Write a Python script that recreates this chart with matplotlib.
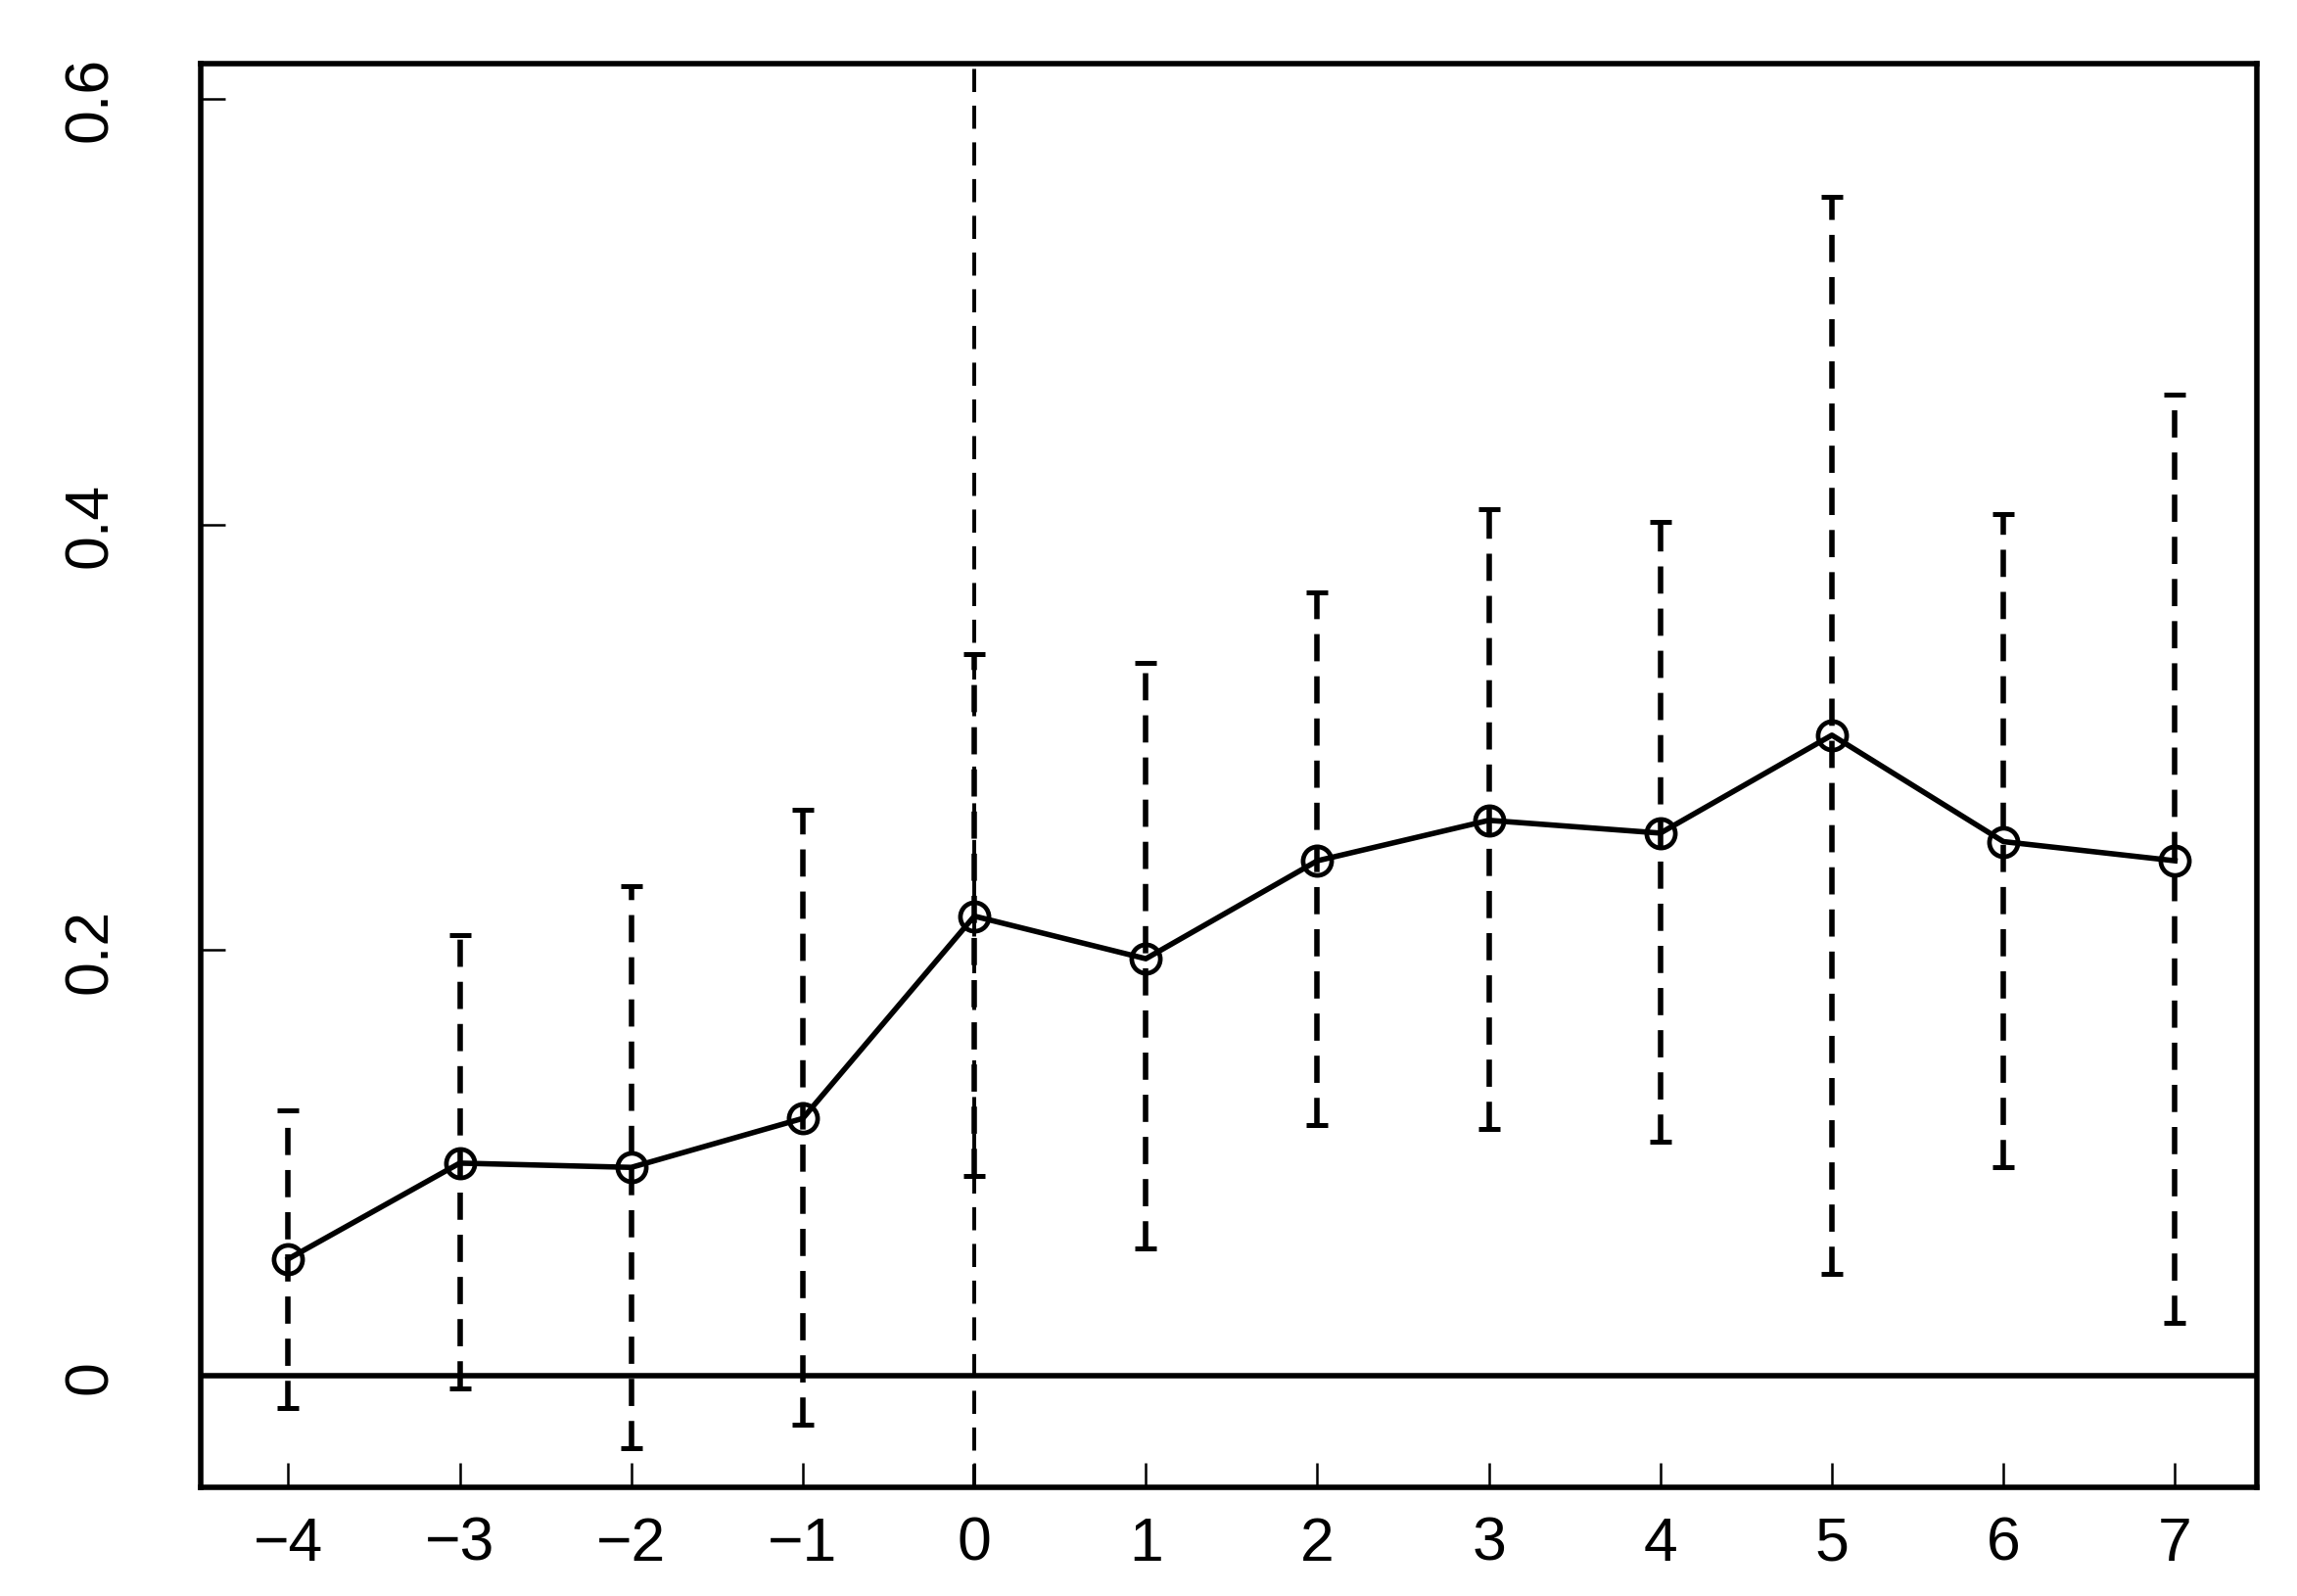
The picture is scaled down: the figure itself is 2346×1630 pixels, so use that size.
import numpy as np
import matplotlib
matplotlib.use('Agg')
import matplotlib.pyplot as plt

plt.rcParams['font.family'] = ['Liberation Sans', 'DejaVu Sans']
plt.rcParams['lines.scale_dashes'] = False

periods = [-4, -3, -2, -1, 0, 1, 2, 3, 4, 5, 6, 7]
estimate = [0.055, 0.100, 0.098, 0.121, 0.216, 0.196, 0.242, 0.261, 0.255, 0.301, 0.251, 0.242]
upper = [0.125, 0.207, 0.230, 0.266, 0.339, 0.335, 0.368, 0.407, 0.401, 0.554, 0.405, 0.461]
lower = [-0.015, -0.006, -0.034, -0.023, 0.094, 0.060, 0.118, 0.116, 0.110, 0.048, 0.098, 0.025]
xtick_labels = ['\u22124', '\u22123', '\u22122', '\u22121', '0', '1', '2', '3', '4', '5', '6', '7']
yticks = [0, 0.2, 0.4, 0.6]
ytick_labels = ['0', '0.2', '0.4', '0.6']

x = np.array(periods)
y = np.array(estimate)
err = [y - np.array(lower), np.array(upper) - y]

fig = plt.figure(figsize=(23.46, 16.31), dpi=100)
ax = fig.add_axes([0.0874, 0.068, 0.8953, 0.8917])

# reference lines
ax.axhline(0, color='black', lw=4.0, zorder=1)
ax.axvline(0, color='black', lw=2.8, linestyle=(0, (17, 10)), zorder=1)

# confidence intervals
eb = ax.errorbar(x, y, yerr=err, fmt='none', ecolor='black', elinewidth=4.0,
                 capsize=8, capthick=3.6, zorder=2)
eb[2][0].set_linestyle((0, (20, 11)))

# point estimates
ax.plot(x, y, color='black', lw=4.0, marker='o', markersize=21,
        markerfacecolor='none', markeredgewidth=3.4, zorder=3)

ax.set_xlim(-4.51, 7.48)
ax.set_ylim(-0.0523, 0.6165)
ax.set_xticks(periods)
ax.set_xticklabels(xtick_labels)
ax.set_yticks(yticks)
ax.set_yticklabels(ytick_labels, rotation=90, va='center')

ax.tick_params(axis='both', direction='in', length=18, width=1.8, labelsize=45)
ax.tick_params(axis='x', pad=20)
ax.tick_params(axis='y', pad=60)
for s in ax.spines.values():
    s.set_linewidth(4.0)

fig.savefig('out.png', dpi=100)
